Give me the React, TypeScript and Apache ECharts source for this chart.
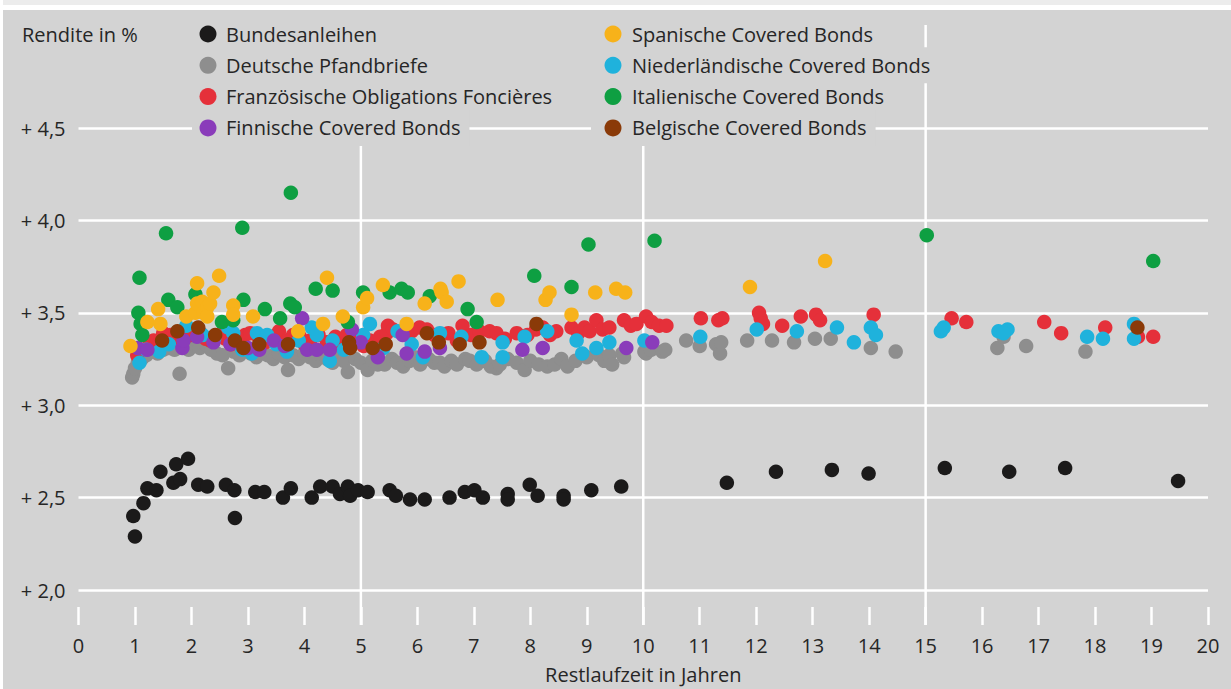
import React, { useEffect, useRef } from "react";
import * as echarts from "echarts";

const xMin = 0;
const xMax = 20;
const yMin = 2.0;
const yMax = 4.5;
const yStep = 0.5;
const verticalLines = [5, 10, 15];
const axisTitleX = "Restlaufzeit in Jahren";
const axisTitleY = "Rendite in %";

const seriesNames = [
  "Bundesanleihen",
  "Deutsche Pfandbriefe",
  "Französische Obligations Foncières",
  "Finnische Covered Bonds",
  "Spanische Covered Bonds",
  "Niederländische Covered Bonds",
  "Italienische Covered Bonds",
  "Belgische Covered Bonds",
];
const seriesColors = ["#1b1a1a", "#8e8e8e", "#e5303a", "#8a3cba", "#f7b21a", "#1fb2dc", "#0e9f42", "#8a3a08"];

const bundesanleihen = [
  [0.97, 2.4], [1.0, 2.29], [1.15, 2.47], [1.22, 2.55], [1.38, 2.54], [1.45, 2.64], [1.68, 2.58], [1.73, 2.68],
  [1.8, 2.6], [1.94, 2.71], [2.12, 2.57], [2.28, 2.56], [2.61, 2.57], [2.76, 2.54], [2.77, 2.39], [3.13, 2.53],
  [3.29, 2.53], [3.62, 2.5], [3.76, 2.55], [4.13, 2.5], [4.28, 2.56], [4.5, 2.56], [4.63, 2.52], [4.77, 2.56],
  [4.81, 2.51], [4.95, 2.54], [5.12, 2.53], [5.51, 2.54], [5.62, 2.51], [5.87, 2.49], [6.13, 2.49], [6.57, 2.5],
  [6.84, 2.53], [7.01, 2.54], [7.16, 2.5], [7.6, 2.52], [7.6, 2.49], [7.99, 2.57], [8.13, 2.51], [8.59, 2.51],
  [8.59, 2.49], [9.08, 2.54], [9.61, 2.56], [11.48, 2.58], [12.35, 2.64], [13.34, 2.65], [13.99, 2.63],
  [15.34, 2.66], [16.48, 2.64], [17.47, 2.66], [19.47, 2.59],
];

const deutschePfandbriefe = [
  [0.95, 3.15], [0.97, 3.17], [1.0, 3.2], [1.05, 3.23], [1.12, 3.25], [1.2, 3.27], [1.3, 3.29], [1.4, 3.28],
  [1.5, 3.3], [1.6, 3.31], [1.7, 3.3], [1.79, 3.17], [1.85, 3.32], [1.95, 3.3], [2.05, 3.33], [2.15, 3.31],
  [2.25, 3.33], [2.35, 3.3], [2.45, 3.28], [2.55, 3.27], [2.65, 3.2], [2.75, 3.29], [2.85, 3.27], [2.95, 3.3],
  [3.05, 3.28], [3.15, 3.26], [3.25, 3.29], [3.35, 3.27], [3.45, 3.25], [3.55, 3.28], [3.65, 3.26], [3.71, 3.19],
  [3.8, 3.27], [3.9, 3.25], [4.0, 3.28], [4.1, 3.26], [4.2, 3.24], [4.3, 3.27], [4.4, 3.25], [4.5, 3.23],
  [4.6, 3.26], [4.7, 3.24], [4.77, 3.18], [4.9, 3.25], [5.0, 3.23], [5.12, 3.19], [5.2, 3.24], [5.3, 3.22],
  [5.42, 3.22], [5.55, 3.25], [5.64, 3.23], [5.75, 3.21], [5.86, 3.24], [5.95, 3.26], [6.05, 3.22], [6.2, 3.25],
  [6.3, 3.23], [6.4, 3.23], [6.48, 3.21], [6.6, 3.24], [6.7, 3.22], [6.85, 3.25], [6.93, 3.24], [7.05, 3.22],
  [7.2, 3.24], [7.3, 3.21], [7.4, 3.2], [7.46, 3.22], [7.6, 3.25], [7.76, 3.23], [7.9, 3.19], [8.0, 3.24],
  [8.15, 3.22], [8.3, 3.21], [8.43, 3.22], [8.55, 3.25], [8.66, 3.21], [8.8, 3.24], [9.0, 3.26], [9.22, 3.27],
  [9.31, 3.24], [9.4, 3.27], [9.45, 3.22], [9.63, 3.28], [9.66, 3.26], [10.02, 3.29], [10.05, 3.28], [10.14, 3.3],
  [10.34, 3.29], [10.39, 3.3], [10.76, 3.35], [11.0, 3.32], [11.29, 3.33], [11.36, 3.28], [11.38, 3.34],
  [11.84, 3.35], [12.28, 3.35], [12.67, 3.34], [13.04, 3.36], [13.32, 3.36], [14.03, 3.31], [14.47, 3.29],
  [16.27, 3.31], [16.38, 3.37], [16.78, 3.32], [17.83, 3.29],
];

const franzoesische = [
  [1.04, 3.27], [1.15, 3.3], [1.25, 3.32], [1.33, 3.35], [1.42, 3.33], [1.5, 3.39], [1.63, 3.38], [1.77, 3.35],
  [1.9, 3.37], [1.98, 3.38], [2.08, 3.41], [2.16, 3.39], [2.25, 3.36], [2.33, 3.35], [2.5, 3.38], [2.6, 3.36],
  [2.7, 3.33], [2.86, 3.35], [2.95, 3.38], [3.04, 3.39], [3.2, 3.36], [3.3, 3.34], [3.45, 3.37], [3.55, 3.4],
  [3.69, 3.35], [3.8, 3.38], [3.92, 3.37], [4.0, 3.33], [4.1, 3.35], [4.25, 3.38], [4.4, 3.34], [4.55, 3.37],
  [4.63, 3.34], [4.75, 3.38], [4.93, 3.35], [5.05, 3.32], [5.16, 3.35], [5.34, 3.37], [5.46, 3.39], [5.48, 3.43],
  [5.57, 3.41], [5.9, 3.4], [6.04, 3.42], [6.17, 3.41], [6.3, 3.38], [6.55, 3.39], [6.7, 3.35], [6.8, 3.43],
  [6.95, 3.38], [7.1, 3.4], [7.28, 3.4], [7.4, 3.39], [7.55, 3.36], [7.76, 3.39], [7.95, 3.38], [8.1, 3.41],
  [8.22, 3.42], [8.35, 3.38], [8.46, 3.4], [8.73, 3.42], [8.85, 3.39], [8.96, 3.42], [9.05, 3.4], [9.17, 3.46],
  [9.28, 3.41], [9.4, 3.42], [9.66, 3.46], [9.78, 3.43], [9.88, 3.44], [10.05, 3.48], [10.15, 3.45],
  [10.28, 3.43], [10.41, 3.43], [11.02, 3.47], [11.33, 3.46], [11.4, 3.47], [12.05, 3.5], [12.08, 3.47],
  [12.12, 3.44], [12.46, 3.43], [12.79, 3.48], [13.06, 3.49], [13.13, 3.46], [14.08, 3.49], [15.46, 3.47],
  [15.72, 3.45], [17.1, 3.45], [17.4, 3.39], [18.18, 3.42], [18.76, 3.37], [19.03, 3.37],
];

const finnische = [
  [1.05, 3.31], [1.22, 3.3], [1.84, 3.31], [1.86, 3.35], [2.1, 3.37], [2.39, 3.34], [2.69, 3.33], [3.0, 3.31],
  [3.2, 3.3], [3.46, 3.35], [3.65, 3.32], [3.96, 3.47], [4.05, 3.3], [4.22, 3.3], [4.45, 3.3], [4.84, 3.41],
  [5.0, 3.34], [5.3, 3.26], [5.74, 3.38], [5.81, 3.28], [6.13, 3.29], [6.4, 3.31], [7.86, 3.3], [8.22, 3.31],
  [9.7, 3.31], [10.16, 3.34],
];

const spanische = [
  [0.92, 3.32], [1.22, 3.45], [1.41, 3.52], [1.45, 3.44], [1.91, 3.48], [2.07, 3.5], [2.1, 3.55], [2.1, 3.66],
  [2.19, 3.56], [2.21, 3.5], [2.28, 3.53], [2.28, 3.48], [2.33, 3.55], [2.39, 3.61], [2.49, 3.7], [2.74, 3.54],
  [2.74, 3.49], [3.09, 3.48], [3.89, 3.4], [4.33, 3.44], [4.4, 3.69], [4.68, 3.48], [5.04, 3.53], [5.11, 3.58],
  [5.39, 3.65], [5.81, 3.44], [6.13, 3.55], [6.41, 3.63], [6.43, 3.61], [6.52, 3.56], [6.73, 3.67], [7.42, 3.57],
  [8.27, 3.57], [8.34, 3.61], [8.73, 3.49], [9.15, 3.61], [9.52, 3.63], [9.68, 3.61], [11.89, 3.64], [13.22, 3.78],
];

const niederlaendische = [
  [1.08, 3.23], [1.2, 3.3], [1.43, 3.29], [1.6, 3.33], [1.91, 3.43], [2.2, 3.38], [2.4, 3.36], [2.65, 3.42],
  [2.74, 3.39], [2.9, 3.3], [3.07, 3.28], [3.16, 3.39], [3.34, 3.38], [3.5, 3.33], [3.69, 3.29], [3.9, 3.35],
  [4.13, 3.42], [4.22, 3.38], [4.45, 3.24], [4.5, 3.35], [4.7, 3.3], [5.04, 3.38], [5.16, 3.44], [5.4, 3.31],
  [5.65, 3.4], [5.9, 3.33], [6.1, 3.26], [6.4, 3.39], [6.78, 3.37], [7.14, 3.26], [7.51, 3.34], [7.51, 3.26],
  [7.9, 3.37], [8.3, 3.4], [8.82, 3.35], [8.92, 3.28], [9.17, 3.31], [9.4, 3.34], [10.02, 3.35], [11.01, 3.37],
  [12.01, 3.41], [12.72, 3.4], [13.43, 3.42], [13.73, 3.34], [14.03, 3.42], [14.12, 3.38], [15.27, 3.4],
  [15.32, 3.42], [16.29, 3.4], [16.45, 3.41], [16.38, 3.39], [17.86, 3.37], [18.14, 3.36], [18.69, 3.44],
  [18.69, 3.36],
];

const italienische = [
  [1.06, 3.5], [1.08, 3.69], [1.1, 3.44], [1.13, 3.38], [1.55, 3.93], [1.59, 3.57], [1.75, 3.53], [2.07, 3.6],
  [2.54, 3.45], [2.74, 3.46], [2.9, 3.96], [2.92, 3.57], [3.3, 3.52], [3.57, 3.47], [3.75, 3.55], [3.76, 4.15],
  [3.83, 3.53], [4.2, 3.63], [4.5, 3.62], [4.77, 3.45], [5.04, 3.61], [5.51, 3.61], [5.72, 3.63], [5.83, 3.61],
  [6.22, 3.59], [6.89, 3.52], [7.05, 3.45], [8.07, 3.7], [8.73, 3.64], [9.03, 3.87], [10.2, 3.89], [15.02, 3.92],
  [19.03, 3.78],
];

const belgische = [
  [1.48, 3.35], [1.75, 3.4], [2.12, 3.42], [2.42, 3.38], [2.77, 3.35], [2.92, 3.31], [3.2, 3.33], [3.71, 3.33],
  [4.79, 3.34], [4.81, 3.31], [5.21, 3.31], [5.44, 3.33], [6.17, 3.39], [6.38, 3.34], [6.75, 3.33], [7.1, 3.34],
  [8.11, 3.44], [18.75, 3.42],
];

const seriesData = [
  bundesanleihen,
  deutschePfandbriefe,
  franzoesische,
  finnische,
  spanische,
  niederlaendische,
  italienische,
  belgische,
];
// drawing order (bottom to top)
const drawOrder = [0, 1, 2, 5, 3, 7, 6, 4];

const FONT = '"Open Sans", "Noto Sans", sans-serif';
const BG = "#d3d3d3";
const TEXT = "#262626";

export default function App() {
  const ref = useRef<HTMLDivElement>(null);
  useEffect(() => {
    document.body.style.margin = "0";
    const chart = echarts.init(ref.current!, null, { renderer: "svg" });
    const option: any = {
      animation: false,
      backgroundColor: BG,
      textStyle: { fontFamily: FONT },
      grid: { left: 78.5, right: 23, top: 128, bottom: 99, containLabel: false },
      xAxis: {
        type: "value",
        min: xMin,
        max: xMax,
        interval: 1,
        offset: 17,
        axisLine: { show: false },
        axisTick: { show: true, length: 18, lineStyle: { color: "#ffffff", width: 2.5 } },
        splitLine: { show: false },
        axisLabel: { margin: 28, color: TEXT, fontSize: 20, fontFamily: FONT },
        name: axisTitleX,
        nameLocation: "middle",
        nameGap: 57,
        nameTextStyle: { color: TEXT, fontSize: 20, fontFamily: FONT },
      },
      yAxis: {
        type: "value",
        min: yMin,
        max: yMax,
        interval: yStep,
        axisLine: { show: false },
        axisTick: { show: false },
        splitLine: { show: true, lineStyle: { color: "#ffffff", width: 2.5 } },
        axisLabel: {
          margin: 13,
          color: TEXT,
          fontSize: 20,
          fontFamily: FONT,
          formatter: (v: number) => "+ " + v.toFixed(1).replace(".", ","),
        },
      },
      series: drawOrder.map((i, k) => ({
        name: seriesNames[i],
        type: "scatter",
        data: seriesData[i],
        symbol: "circle",
        symbolSize: 14.5,
        z: 2 + k * 0.01,
        zlevel: 0,
        itemStyle: { color: seriesColors[i], opacity: 1 },
        silent: true,
      })),
    };
    chart.setOption(option);

    const px = (x: number) => chart.convertToPixel({ xAxisIndex: 0 }, x) as number;
    const py = (y: number) => chart.convertToPixel({ yAxisIndex: 0 }, y) as number;
    const W = 1231;
    const H = 689;
    const bottomTick = py(yMin) + 35;

    const graphics: any[] = [
      { type: "rect", shape: { x: 0, y: 0, width: W, height: 10 }, style: { fill: "#ffffff" }, z: -5, silent: true },
      { type: "rect", shape: { x: 0, y: 0, width: W, height: 5 }, style: { fill: "#ececec" }, z: -4, silent: true },
      { type: "rect", shape: { x: 0, y: 0, width: 3, height: H }, style: { fill: "#ffffff" }, z: -4, silent: true },
    ];
    verticalLines.forEach((v) => {
      const x = px(v);
      graphics.push({
        type: "line",
        shape: { x1: x, y1: 25, x2: x, y2: bottomTick },
        style: { stroke: "#ffffff", lineWidth: 2.5 },
        z: 1,
        silent: true,
      });
    });
    graphics.push({
      type: "text",
      x: 22,
      y: 34,
      style: { text: axisTitleY, font: `20px ${FONT}`, fill: TEXT, verticalAlign: "middle", align: "left" },
      z: 10,
      silent: true,
    });
    const colBgLeft = [192, 591];
    const colMarker = [208, 613];
    const colText = [226, 632];
    seriesNames.forEach((name, i) => {
      const col = i < 4 ? 0 : 1;
      const row = i % 4;
      const y = 34 + row * 31.3;
      graphics.push({
        type: "text",
        x: colBgLeft[col],
        y,
        style: {
          text: name,
          font: `20px ${FONT}`,
          fill: TEXT,
          verticalAlign: "middle",
          align: "left",
          backgroundColor: BG,
          padding: [8, 9, 8, colText[col] - colBgLeft[col]],
        },
        z: 10,
        silent: true,
      });
      graphics.push({
        type: "circle",
        shape: { cx: colMarker[col], cy: y, r: 8.5 },
        style: { fill: seriesColors[i] },
        z: 11,
        silent: true,
      });
    });
    chart.setOption({ graphic: graphics });
    return () => chart.dispose();
  }, []);
  return <div ref={ref} style={{ width: 1231, height: 689 }} />;
}
